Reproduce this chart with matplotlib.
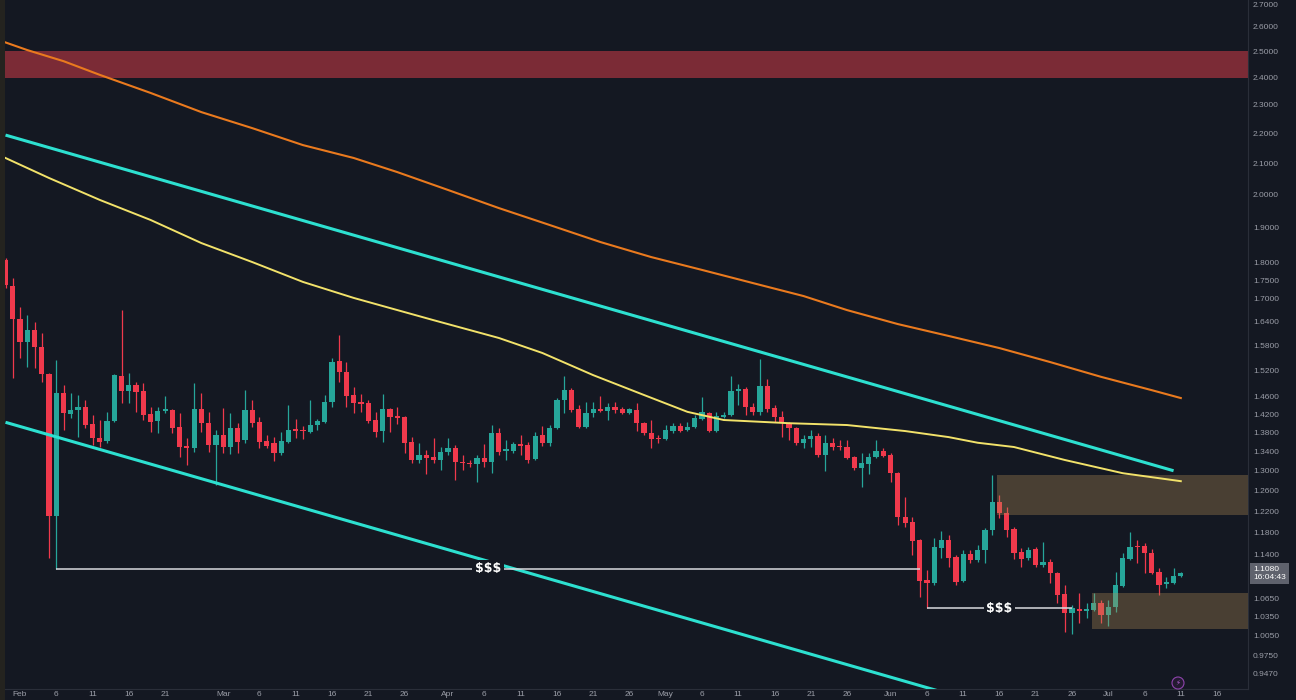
import matplotlib
matplotlib.use("Agg")
import matplotlib.pyplot as plt
import matplotlib.transforms as mtransforms
from matplotlib.patches import Rectangle, Circle
from matplotlib.ticker import FixedLocator, FormatStrFormatter, NullLocator
import numpy as np
import pandas as pd

plt.rcParams['font.family'] = ['Liberation Sans', 'DejaVu Sans']

# daily candles, first one is Jan 30
start_date = '2025-01-30'

opens = [1.806, 1.734, 1.647, 1.589, 1.619, 1.577, 1.512, 1.212, 1.467, 1.420,
         1.429, 1.436, 1.398, 1.368, 1.362, 1.405, 1.507, 1.472, 1.486, 1.472,
         1.420, 1.405, 1.427, 1.429, 1.392, 1.351, 1.347, 1.431, 1.400, 1.353,
         1.375, 1.349, 1.390, 1.364, 1.429, 1.403, 1.362, 1.358, 1.337, 1.360,
         1.387, 1.385, 1.381, 1.396, 1.403, 1.447, 1.543, 1.516, 1.463, 1.447,
         1.445, 1.407, 1.383, 1.431, 1.416, 1.414, 1.360, 1.322, 1.332, 1.328,
         1.322, 1.339, 1.347, 1.318, 1.316, 1.314, 1.326, 1.318, 1.379, 1.341,
         1.341, 1.355, 1.353, 1.324, 1.375, 1.358, 1.390, 1.451, 1.474, 1.431,
         1.392, 1.422, 1.431, 1.427, 1.436, 1.431, 1.422, 1.429, 1.400, 1.379,
         1.368, 1.366, 1.383, 1.394, 1.385, 1.392, 1.409, 1.422, 1.383, 1.414,
         1.418, 1.472, 1.477, 1.436, 1.425, 1.484, 1.434, 1.414, 1.400, 1.390,
         1.358, 1.366, 1.372, 1.332, 1.358, 1.351, 1.349, 1.328, 1.306, 1.314,
         1.328, 1.341, 1.332, 1.295, 1.210, 1.200, 1.167, 1.096, 1.091, 1.153,
         1.167, 1.136, 1.095, 1.142, 1.131, 1.149, 1.185, 1.238, 1.217, 1.187,
         1.145, 1.134, 1.151, 1.122, 1.128, 1.108, 1.073, 1.041, 1.048, 1.045,
         1.046, 1.058, 1.038, 1.051, 1.086, 1.133, 1.156, 1.156, 1.144, 1.110,
         1.090, 1.091, 1.103]

highs = [1.811, 1.756, 1.678, 1.657, 1.639, 1.612, 1.515, 1.545, 1.486, 1.467,
         1.463, 1.451, 1.418, 1.407, 1.425, 1.512, 1.670, 1.514, 1.493, 1.490,
         1.436, 1.436, 1.460, 1.432, 1.422, 1.368, 1.490, 1.467, 1.425, 1.385,
         1.434, 1.422, 1.400, 1.474, 1.451, 1.414, 1.375, 1.370, 1.381, 1.440,
         1.409, 1.394, 1.451, 1.409, 1.463, 1.550, 1.607, 1.540, 1.481, 1.465,
         1.451, 1.425, 1.465, 1.434, 1.436, 1.416, 1.370, 1.358, 1.343, 1.368,
         1.349, 1.368, 1.353, 1.332, 1.322, 1.332, 1.355, 1.396, 1.390, 1.364,
         1.360, 1.375, 1.360, 1.381, 1.394, 1.396, 1.456, 1.507, 1.479, 1.440,
         1.447, 1.447, 1.460, 1.445, 1.447, 1.436, 1.434, 1.445, 1.402, 1.407,
         1.375, 1.396, 1.400, 1.400, 1.403, 1.418, 1.458, 1.425, 1.425, 1.425,
         1.507, 1.488, 1.481, 1.445, 1.548, 1.500, 1.440, 1.427, 1.403, 1.392,
         1.375, 1.385, 1.379, 1.375, 1.368, 1.364, 1.364, 1.330, 1.337, 1.337,
         1.364, 1.347, 1.337, 1.297, 1.248, 1.210, 1.169, 1.114, 1.171, 1.184,
         1.176, 1.140, 1.149, 1.149, 1.158, 1.189, 1.291, 1.252, 1.229, 1.191,
         1.153, 1.154, 1.154, 1.164, 1.133, 1.110, 1.088, 1.054, 1.074, 1.058,
         1.074, 1.063, 1.063, 1.110, 1.144, 1.182, 1.167, 1.162, 1.151, 1.117,
         1.101, 1.117, 1.110]

lows = [1.729, 1.502, 1.550, 1.528, 1.526, 1.493, 1.134, 1.116, 1.385, 1.411,
        1.370, 1.390, 1.353, 1.349, 1.358, 1.403, 1.445, 1.445, 1.425, 1.407,
        1.381, 1.379, 1.422, 1.379, 1.328, 1.312, 1.339, 1.381, 1.339, 1.271,
        1.337, 1.334, 1.337, 1.358, 1.392, 1.347, 1.347, 1.320, 1.332, 1.358,
        1.368, 1.366, 1.379, 1.385, 1.400, 1.436, 1.493, 1.436, 1.422, 1.425,
        1.400, 1.370, 1.360, 1.381, 1.398, 1.337, 1.316, 1.316, 1.293, 1.316,
        1.301, 1.332, 1.281, 1.301, 1.308, 1.277, 1.308, 1.295, 1.332, 1.322,
        1.337, 1.332, 1.316, 1.322, 1.351, 1.351, 1.387, 1.422, 1.425, 1.390,
        1.390, 1.414, 1.425, 1.407, 1.422, 1.420, 1.420, 1.383, 1.375, 1.347,
        1.358, 1.364, 1.379, 1.381, 1.383, 1.390, 1.407, 1.381, 1.381, 1.411,
        1.416, 1.440, 1.418, 1.418, 1.418, 1.425, 1.403, 1.370, 1.364, 1.353,
        1.347, 1.349, 1.328, 1.299, 1.343, 1.343, 1.324, 1.301, 1.267, 1.293,
        1.326, 1.328, 1.277, 1.195, 1.191, 1.140, 1.068, 1.049, 1.088, 1.134,
        1.119, 1.088, 1.093, 1.126, 1.128, 1.126, 1.176, 1.208, 1.173, 1.133,
        1.119, 1.131, 1.119, 1.119, 1.091, 1.058, 1.011, 1.008, 1.025, 1.033,
        1.045, 1.025, 1.021, 1.043, 1.084, 1.131, 1.126, 1.108, 1.107, 1.071,
        1.083, 1.089, 1.101]

closes = [1.737, 1.647, 1.589, 1.619, 1.577, 1.512, 1.212, 1.467, 1.422, 1.429,
          1.436, 1.396, 1.368, 1.360, 1.405, 1.509, 1.472, 1.486, 1.470, 1.418,
          1.403, 1.427, 1.431, 1.390, 1.349, 1.347, 1.431, 1.400, 1.353, 1.375,
          1.349, 1.390, 1.360, 1.429, 1.400, 1.360, 1.351, 1.337, 1.362, 1.385,
          1.383, 1.383, 1.396, 1.405, 1.447, 1.540, 1.516, 1.460, 1.445, 1.442,
          1.405, 1.381, 1.431, 1.414, 1.411, 1.358, 1.322, 1.332, 1.326, 1.322,
          1.339, 1.347, 1.318, 1.316, 1.314, 1.326, 1.318, 1.379, 1.339, 1.345,
          1.355, 1.351, 1.322, 1.372, 1.358, 1.390, 1.451, 1.474, 1.429, 1.392,
          1.422, 1.431, 1.427, 1.436, 1.429, 1.422, 1.431, 1.400, 1.379, 1.366,
          1.366, 1.385, 1.394, 1.383, 1.392, 1.411, 1.425, 1.383, 1.416, 1.418,
          1.472, 1.477, 1.436, 1.425, 1.484, 1.431, 1.414, 1.400, 1.390, 1.358,
          1.366, 1.372, 1.332, 1.358, 1.349, 1.349, 1.326, 1.306, 1.316, 1.328,
          1.341, 1.330, 1.295, 1.210, 1.198, 1.165, 1.095, 1.091, 1.154, 1.167,
          1.134, 1.093, 1.142, 1.131, 1.149, 1.185, 1.238, 1.217, 1.185, 1.144,
          1.133, 1.149, 1.122, 1.128, 1.108, 1.071, 1.041, 1.049, 1.045, 1.048,
          1.058, 1.038, 1.051, 1.088, 1.134, 1.154, 1.154, 1.144, 1.108, 1.088,
          1.093, 1.103, 1.108]

# moving averages (candle index, price)
orange_idx = [0, 3, 8, 13, 20, 27, 34, 41, 48, 54, 61, 68, 75, 82, 89, 96,
              103, 110, 116, 123, 130, 137, 144, 151, 158, 162]
orange_val = [2.535, 2.505, 2.462, 2.410, 2.343, 2.274, 2.218, 2.160, 2.117,
              2.071, 2.014, 1.958, 1.907, 1.857, 1.814, 1.778, 1.742, 1.707,
              1.670, 1.634, 1.604, 1.574, 1.540, 1.505, 1.474, 1.456]

yellow_idx = [0, 6, 13, 20, 27, 34, 41, 48, 59, 68, 74, 81, 88, 94, 99, 108,
              116, 124, 130, 134, 139, 146, 154, 162]
yellow_val = [2.117, 2.052, 1.983, 1.922, 1.854, 1.800, 1.745, 1.702, 1.644,
              1.599, 1.562, 1.509, 1.463, 1.425, 1.407, 1.400, 1.396, 1.383,
              1.370, 1.358, 1.349, 1.322, 1.295, 1.279]

# descending channel
upper_idx = [0, 161]
upper_val = [2.194, 1.300]
lower_idx = [0, 129]
lower_val = [1.402, 0.921]

# zones
supply_zone = (2.40, 2.50)
upper_box = (136.6, 1.213, 1.291)
lower_box = (149.8, 1.016, 1.074)

# liquidity levels: price, from candle, to candle
sweep_levels = [1.116, 1.049]
sweep_from = [7, 127]
sweep_to = [126, 147]

price_ticks = [0.947, 0.975, 1.005, 1.035, 1.065, 1.14, 1.18, 1.22, 1.26, 1.30,
               1.34, 1.38, 1.42, 1.46, 1.52, 1.58, 1.64, 1.70, 1.75, 1.80,
               1.90, 2.00, 2.10, 2.20, 2.30, 2.40, 2.50, 2.60, 2.70]
timer_text = '16:04:43'

BG = '#141822'
GREEN = '#26a69a'
RED = '#f0394c'
LABEL = '#9a9da7'
SPINE = '#2a2e39'

W, H = 1296, 700
fig = plt.figure(figsize=(W / 100, H / 100), dpi=100, facecolor=BG)
ax = fig.add_axes([5 / W, 11 / H, 1243 / W, 689 / H])
ax.set_facecolor(BG)
ax.set_yscale('log')
ax.set_ylim(0.9250, 2.7084)
ax.set_xlim(-0.07, 171.26)

o = np.array(opens)
h = np.array(highs)
l = np.array(lows)
c = np.array(closes)
x = np.arange(len(o))
cols = np.where(c >= o, GREEN, RED)

ax.vlines(x, l, h, colors=cols, lw=0.9, zorder=3)
bot = np.minimum(o, c)
top = np.maximum(np.maximum(o, c), bot * 1.0018)
ax.bar(x, top - bot, bottom=bot, width=0.72, color=cols, lw=0, zorder=3)

# zones
ax.axhspan(*supply_zone, color='#7b2b36', lw=0, zorder=1)
for x0, y0, y1 in [upper_box, lower_box]:
    ax.add_patch(Rectangle((x0, y0), 60, y1 - y0, facecolor='#b08d55',
                           alpha=0.34, lw=0, zorder=4))

# lines
ax.plot(orange_idx, orange_val, color='#ea7a1e', lw=1.5, zorder=5)
ax.plot(yellow_idx, yellow_val, color='#f2e26a', lw=1.4, zorder=5)
ax.plot(upper_idx, upper_val, color='#2de0d0', lw=2.2, zorder=5,
        solid_capstyle='butt')
ax.plot(lower_idx, lower_val, color='#2de0d0', lw=2.2, zorder=5,
        solid_capstyle='butt')

for lvl, a, b in zip(sweep_levels, sweep_from, sweep_to):
    ax.hlines(lvl, a, b, color='#d9dadf', lw=1.1, zorder=6)
    ax.text((a + b) / 2, lvl, '$$$', ha='center', va='center', fontsize=9,
            fontweight='bold', color='white', family='DejaVu Sans', zorder=7,
            bbox=dict(fc=BG, ec='none', pad=1.8))

# axes styling
ax.yaxis.tick_right()
ax.yaxis.set_major_locator(FixedLocator(price_ticks))
ax.yaxis.set_minor_locator(NullLocator())
ax.yaxis.set_major_formatter(FormatStrFormatter('%.4f'))
ax.tick_params(axis='y', length=0, pad=3.6, labelsize=6, colors=LABEL)

dates = pd.date_range(start_date, periods=172)
tpos, tlab = [], []
for k, dt in enumerate(dates):
    if dt.day == 1:
        tpos.append(k)
        tlab.append(dt.strftime('%b'))
    elif dt.day in (6, 11, 16, 21, 26) and not (dt.month == 2 and dt.day == 26):
        tpos.append(k)
        tlab.append(str(dt.day))
ax.set_xticks(tpos)
ax.set_xticklabels(tlab)
ax.tick_params(axis='x', length=0, pad=1.2, labelsize=6, colors=LABEL)

for s in ['top', 'left']:
    ax.spines[s].set_visible(False)
for s in ['right', 'bottom']:
    ax.spines[s].set_color(SPINE)
    ax.spines[s].set_linewidth(0.8)

# keep the topmost price label inside the picture
fig.canvas.draw()
for lab in ax.get_yticklabels():
    if lab.get_text() == '2.7000':
        lab.set_verticalalignment('top')

# last price tag
trans = mtransforms.blended_transform_factory(ax.transAxes, ax.transData)
ax.text(1.004, c[-1], f'{c[-1]:.4f}\n{timer_text}', transform=trans,
        ha='left', va='center', fontsize=6, color='white', linespacing=1.15,
        bbox=dict(boxstyle='square,pad=0.35', fc='#5f626d', ec='none'),
        clip_on=False, zorder=10)

# left border strip
fig.add_artist(Rectangle((0, 0), 5 / W, 1, transform=fig.transFigure,
                         color='#24231f', lw=0, zorder=0))

# small alert icon
fig.add_artist(Circle((11.78, 0.17), 0.06, transform=fig.dpi_scale_trans,
                      fc='#231a30', ec='#8e44ad', lw=0.8, zorder=8))
fig.text(1178 / W, 17 / H, '\u26a1', ha='center', va='center', fontsize=5,
         color='#b05fd0', family='DejaVu Sans', zorder=9)

fig.savefig('out.png', dpi=100, facecolor=BG)
